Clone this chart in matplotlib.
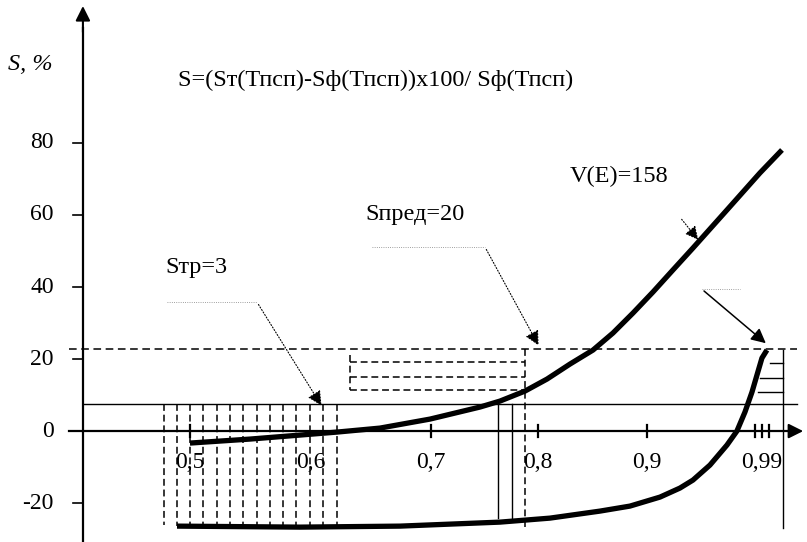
import matplotlib
matplotlib.use("Agg")
import matplotlib.pyplot as plt
import numpy as np

plt.rcParams['font.family'] = ['Liberation Serif', 'DejaVu Serif']

# x axis of the scheme is not uniform: tick value -> drawn place
x_knots = [0.3, 0.5, 0.6, 0.7, 0.8, 0.9, 0.99, 1.2]
x_place = [-50, 190, 311, 431, 538, 647, 762, 1030]

x_ticks = [0.5, 0.6, 0.7, 0.8, 0.9, 0.99]
x_tick_labels = ['0,5', '0,6', '0,7', '0,8', '0,9', '0,99']
x_tick_marks = [0.5, 0.7, 0.8, 0.9, 0.9845, 0.99, 0.9955]
y_ticks = [80, 60, 40, 20, -20]
y_tick_labels = ['80', '60', '40', '20', '0', '-20']
y_label_vals = [80, 60, 40, 20, 0, -20]

# V(E)=158 curve
up_x = [0.5, 0.5496, 0.5909, 0.6217, 0.6575, 0.6992, 0.7458, 0.7645, 0.7879,
        0.8083, 0.8294, 0.8505, 0.8688, 0.8872, 0.9047, 0.9203, 0.936,
        0.9626, 0.9884, 1.0057]
up_y = [-3.33, -2.22, -1.11, -0.28, 0.83, 3.33, 6.67, 8.33, 11.11,
        14.44, 18.61, 22.5, 27.22, 32.78, 38.61, 44.72, 50.83,
        61.39, 71.67, 78.06]
# lower curve
lo_x = [0.4892, 0.5909, 0.6742, 0.7645, 0.811, 0.8569, 0.8844, 0.9102, 0.9258,
        0.936, 0.9493, 0.9626, 0.9704, 0.9767, 0.9822, 0.9861, 0.99, 0.9939]
lo_y = [-26.39, -26.67, -26.39, -25.28, -24.17, -22.22, -20.83, -18.33, -15.83,
        -13.61, -9.44, -3.89, 0.0, 5.28, 10.83, 15.56, 20.28, 22.5]

# levels as drawn on the scheme
s_tr_level = 7.5     # Sтр=3
s_pred_level = 22.8  # Sпред=20

hatch_x = [0.478, 0.489, 0.500, 0.511, 0.522, 0.533, 0.544, 0.555, 0.566,
           0.577, 0.588, 0.599, 0.610, 0.622]
box_y = [19.2, 15.0, 11.4]
solid_x = [0.7626, 0.7757]
right_y = [18.9, 14.7, 10.8]
right_start = [0.9963, 0.9884, 0.9869]


def fwd(v):
    return np.interp(v, x_knots, x_place)


def inv(p):
    return np.interp(p, x_place, x_knots)


fig = plt.figure(figsize=(8.07, 5.42), dpi=100)
ax = fig.add_axes([0, 0, 1, 1])
ax.set_xscale('function', functions=(fwd, inv))
ax.set_xlim(0.3417, 1.0253)
ax.set_ylim(-30.8, 119.7)
ax.axis('off')

dash = (0, (4.5, 2.5))

# axes with arrows
ax.plot([0.3992, 1.018], [0, 0], color='black', lw=1.6)
ax.plot([0.4108, 0.4108], [-31, 112], color='black', lw=1.6)
ax.annotate('', xy=(1.0245, 0), xytext=(1.015, 0),
            arrowprops=dict(arrowstyle='-|>', color='black', lw=1.5, mutation_scale=22))
ax.annotate('', xy=(0.4108, 118.8), xytext=(0.4108, 110),
            arrowprops=dict(arrowstyle='-|>', color='black', lw=1.5, mutation_scale=22))

for v in y_ticks:
    ax.plot([0.4025, 0.4108], [v, v], color='black', lw=1.2)
for v in x_tick_marks:
    ax.plot([v, v], [-1.6, 1.6], color='black', lw=1.6)

for v, t in zip(x_ticks, x_tick_labels):
    ax.text(v, -8.6, t, ha='center', va='center', fontsize=17)
for v, t in zip(y_label_vals, y_tick_labels):
    ax.text(0.3867, v, t, ha='right', va='center', fontsize=17)

# level lines
ax.plot([0.3992, 1.0174], [s_pred_level] * 2, color='black', lw=1.1, ls=(0, (5, 3)))
ax.plot([0.4108, 1.0174], [s_tr_level] * 2, color='black', lw=1.0)

# vertical hatching under Sтр
for i, v in enumerate(hatch_x):
    bottom = -26.0 if i == 0 else np.interp(v, lo_x, lo_y)
    ax.plot([v, v], [s_tr_level, bottom], color='black', lw=1.1, ls=dash)

# hatched box under Sпред
ax.plot([0.6325, 0.6325], [21.1, 11.4], color='black', lw=1.1, ls=dash)
for v in box_y:
    ax.plot([0.6325, 0.7879], [v, v], color='black', lw=1.1, ls=dash)
ax.plot([0.7879, 0.7879], [s_pred_level, -26.7], color='black', lw=1.1, ls=dash)
for v in solid_x:
    ax.plot([v, v], [s_tr_level, -24.2], color='black', lw=1.0)

# right side
ax.plot([1.0065, 1.0065], [22.5, -27.0], color='black', lw=1.0)
for y, x0 in zip(right_y, right_start):
    ax.plot([x0, 1.0065], [y, y], color='black', lw=1.0)

# curves
ax.plot(up_x, up_y, color='black', lw=3.8, solid_capstyle='butt', solid_joinstyle='round')
ax.plot(lo_x, lo_y, color='black', lw=3.8, solid_capstyle='butt', solid_joinstyle='round')

# annotation leaders
ax.plot([0.4808, 0.5554], [35.8, 35.8], color='gray', lw=0.6, ls=':')
ax.annotate('', xy=(0.61, 6.4), xytext=(0.5554, 35.8),
            arrowprops=dict(arrowstyle='-|>', color='black', lw=0.8, ls=':', mutation_scale=22))
ax.plot([0.651, 0.7505], [51.1, 51.1], color='gray', lw=0.6, ls=':')
ax.annotate('', xy=(0.8018, 23.1), xytext=(0.7505, 51.1),
            arrowprops=dict(arrowstyle='-|>', color='black', lw=0.8, ls=':', mutation_scale=22))
ax.annotate('', xy=(0.9415, 52.5), xytext=(0.9258, 59.4),
            arrowprops=dict(arrowstyle='-|>', color='black', lw=0.8, ls=':', mutation_scale=20))
ax.plot([0.943, 0.9728], [39.4, 39.4], color='gray', lw=0.6, ls=':')
ax.annotate('', xy=(0.9947, 23.9), xytext=(0.943, 39.4),
            arrowprops=dict(arrowstyle='-|>', color='black', lw=1.1, mutation_scale=22))

# texts
ax.text(0.3483, 101.7, 'S, %', fontsize=17.5, style='italic', va='center')
ax.text(0.49, 97.5, 'S=(Sт(Тпсп)-Sф(Тпсп))x100/ Sф(Тпсп)', fontsize=17.5, va='center')
ax.text(0.4792, 45.3, 'Sтр=3', fontsize=17.5, va='center')
ax.text(0.645, 60.0, 'Sпред=20', fontsize=17.5, va='center')
ax.text(0.8293, 70.6, 'V(E)=158', fontsize=17.5, va='center')

fig.savefig('out.png', dpi=100)
